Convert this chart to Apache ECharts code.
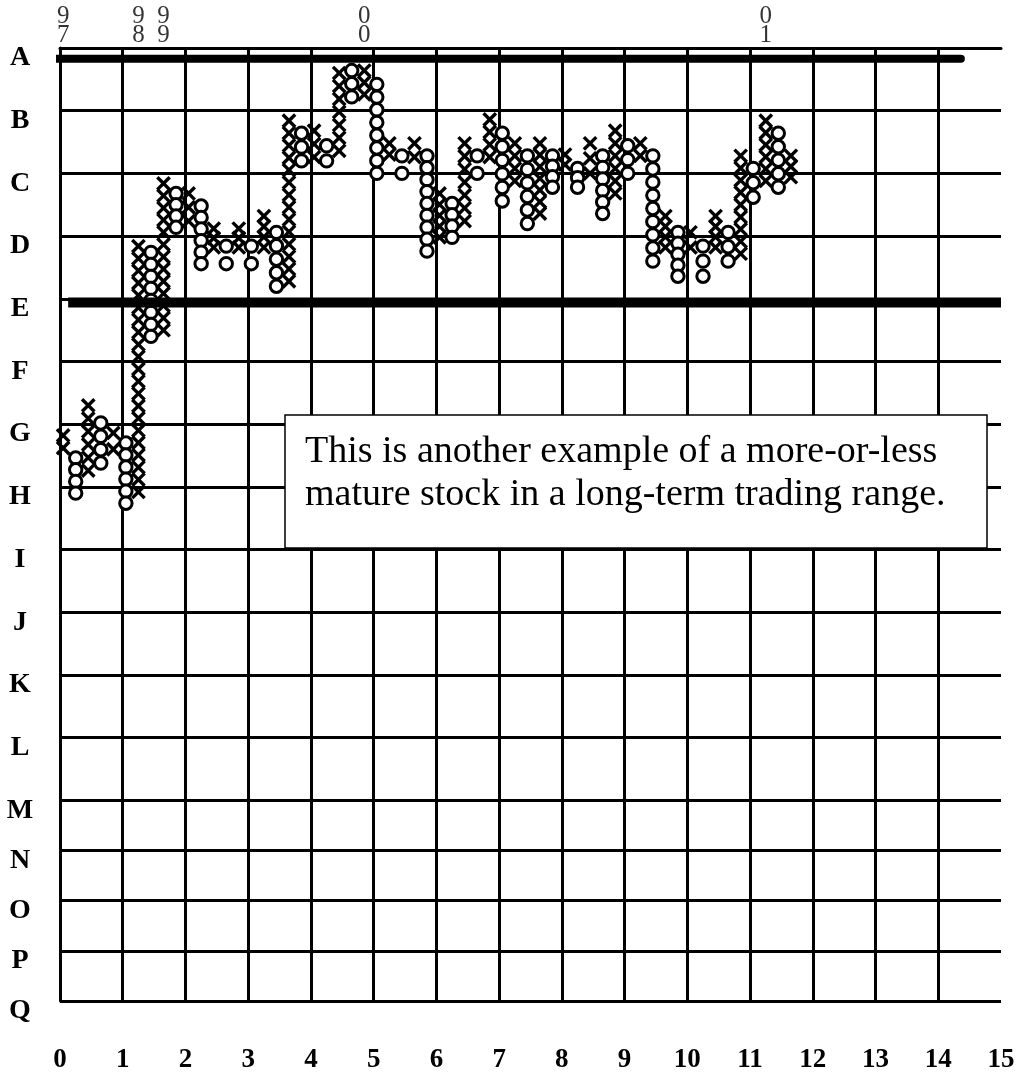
<!DOCTYPE html>
<html>
<head>
<meta charset="utf-8">
<title>Point and figure</title>
<script src="https://cdn.jsdelivr.net/npm/echarts@6/dist/echarts.min.js"></script>
<style>
  html, body { margin: 0; padding: 0; background: #fff; }
  #chart { width: 1032px; height: 1076px; }
</style>
</head>
<body>
<div id="chart"></div>
<script>
// row letters and their line level, in boxes counted down from A
var rowLabels = ['A', 'B', 'C', 'D', 'E', 'F', 'G', 'H', 'I', 'J', 'K', 'L', 'M', 'N', 'O', 'P', 'Q']
var rowLevels = [0, 5, 10, 15, 20, 25, 30, 35, 40, 45, 50, 55, 60, 64, 68, 72, 76]

// year change markers along the top
var yearText = ['97', '98', '99', '00', '01']
var yearX = [0.05, 1.25, 1.65, 4.85, 11.25]

// point & figure columns: kind, position, first and last box
var colKind = ['X', 'O', 'X', 'O', 'X', 'O', 'X', 'O', 'X', 'O',
  'X', 'O', 'X', 'O', 'X', 'O', 'X', 'O', 'X', 'O',
  'X', 'O', 'X', 'O', 'X', 'O', 'X', 'O', 'X', 'O',
  'X', 'O', 'X', 'O', 'X', 'O', 'X', 'O', 'X', 'O',
  'X', 'O', 'X', 'O', 'X', 'O', 'X', 'O', 'X', 'O',
  'X', 'O', 'X', 'O', 'X', 'O', 'X', 'O', 'X']
var colX = [0.05, 0.25, 0.45, 0.65, 0.85, 1.05, 1.25, 1.45, 1.65, 1.85,
  2.05, 2.25, 2.45, 2.65, 2.85, 3.05, 3.25, 3.45, 3.65, 3.85,
  4.05, 4.25, 4.45, 4.65, 4.85, 5.05, 5.25, 5.45, 5.65, 5.85,
  6.05, 6.25, 6.45, 6.65, 6.85, 7.05, 7.25, 7.45, 7.65, 7.85,
  8.05, 8.25, 8.45, 8.65, 8.85, 9.05, 9.25, 9.45, 9.65, 9.85,
  10.05, 10.25, 10.45, 10.65, 10.85, 11.05, 11.25, 11.45, 11.65]
var colTop = [30.9, 32.7, 28.5, 29.9, 30.7, 31.5, 15.8, 16.3, 10.8, 11.6,
  11.6, 12.6, 14.4, 15.8, 14.4, 15.8, 13.4, 14.7, 5.8, 6.8,
  6.6, 7.8, 2.0, 1.8, 1.8, 2.9, 7.6, 8.6, 7.6, 8.6,
  11.6, 12.4, 7.6, 8.6, 5.7, 6.8, 7.6, 8.6, 7.6, 8.6,
  8.5, 9.6, 7.6, 8.6, 6.6, 7.8, 7.6, 8.6, 13.4, 14.7,
  14.7, 15.8, 13.4, 14.7, 8.6, 9.6, 5.8, 6.8, 8.6]
var colBottom = [31.9, 35.5, 33.7, 33.1, 32.0, 36.3, 35.4, 23.0, 22.5, 14.3,
  13.8, 17.2, 15.9, 17.2, 15.9, 17.2, 15.9, 19.0, 18.6, 9.0,
  8.7, 9.0, 8.2, 3.9, 3.7, 10.0, 8.5, 10.0, 8.7, 16.2,
  15.1, 15.1, 13.8, 10.0, 8.7, 12.2, 10.6, 14.0, 13.2, 11.1,
  9.3, 11.1, 10.0, 13.2, 11.6, 10.0, 8.6, 17.0, 15.9, 18.2,
  15.9, 18.2, 15.9, 17.0, 16.4, 11.9, 10.6, 11.1, 10.3]

// the two heavy trading range lines
var resistance = [[-0.16, 0.85], [14.36, 0.85]]
var support = [[0.13, 20.3], [15, 20.3]]

var serif = '"Liberation Serif", "Times New Roman", serif'

var chart = echarts.init(document.getElementById('chart'))

function renderColumn(params, api) {
  var x = api.value(0)
  var top = api.value(1)
  var bottom = api.value(2)
  var isX = api.value(3) === 1
  var n = Math.round(bottom - top) + 1
  var h = 6.2
  var kids = []
  for (var i = 0; i < n; i++) {
    var v = n === 1 ? top : top + (bottom - top) * i / (n - 1)
    var p = api.coord([x, v])
    if (isX) {
      kids.push({ type: 'line', shape: { x1: p[0] - h, y1: p[1] - h, x2: p[0] + h, y2: p[1] + h }, style: { stroke: '#000', lineWidth: 3.4 } })
      kids.push({ type: 'line', shape: { x1: p[0] - h, y1: p[1] + h, x2: p[0] + h, y2: p[1] - h }, style: { stroke: '#000', lineWidth: 3.4 } })
    } else {
      kids.push({ type: 'circle', shape: { cx: p[0], cy: p[1], r: h }, style: { fill: '#fff', stroke: '#000', lineWidth: 3 } })
    }
  }
  return { type: 'group', children: kids }
}

chart.setOption({
  animation: false,
  backgroundColor: '#fff',
  grid: { left: 60, right: 31, top: 48, bottom: 75, outerBoundsMode: 'none' },
  xAxis: {
    type: 'value',
    min: 0,
    max: 15,
    interval: 1,
    axisLine: { show: true, lineStyle: { color: '#000', width: 3 } },
    axisTick: { show: false },
    axisLabel: { color: '#000', fontFamily: serif, fontWeight: 'bold', fontSize: 27, margin: 46 },
    splitLine: { show: true, showMaxLine: false, lineStyle: { color: '#000', width: 3 } }
  },
  yAxis: {
    type: 'value',
    inverse: true,
    min: 0,
    max: 76,
    axisLine: { show: true, lineStyle: { color: '#000', width: 3 } },
    axisTick: { show: false, customValues: rowLevels },
    axisLabel: {
      customValues: rowLevels,
      color: '#000',
      fontFamily: serif,
      fontWeight: 'bold',
      fontSize: 28,
      align: 'center',
      verticalAlign: 'top',
      lineHeight: 20,
      margin: 40,
      formatter: function (v) {
        var i = rowLevels.indexOf(v)
        return i < 0 ? '' : rowLabels[i]
      }
    },
    splitLine: { show: true, lineStyle: { color: '#000', width: 3 } }
  },
  series: [
    {
      type: 'custom',
      name: 'columns',
      renderItem: renderColumn,
      encode: { x: 0, y: [1, 2] },
      data: colX.map(function (x, i) {
        return [x, colTop[i], colBottom[i], colKind[i] === 'X' ? 1 : 0]
      }),
      z: 3
    },
    {
      type: 'line',
      name: 'resistance',
      data: resistance,
      symbol: 'none',
      clip: false,
      lineStyle: { color: '#000', width: 8, cap: 'round' },
      z: 4
    },
    {
      type: 'line',
      name: 'support',
      data: support,
      symbol: 'none',
      clip: false,
      lineStyle: { color: '#000', width: 10 },
      z: 4
    },
    {
      type: 'scatter',
      name: 'years',
      symbolSize: 0,
      clip: false,
      data: yearX.map(function (x, i) { return [x, 0, i] }),
      label: {
        show: true,
        position: 'top',
        distance: 3,
        color: '#000',
        fontFamily: serif,
        fontSize: 25,
        lineHeight: 19,
        formatter: function (p) {
          return yearText[p.value[2]].split('').join('\n')
        }
      },
      z: 4
    }
  ],
  graphic: [
    { type: 'rect', z: 100, shape: { x: 285, y: 415, width: 702, height: 133 }, style: { fill: '#fff', stroke: '#000', lineWidth: 1.5 } },
    { type: 'text', z: 101, x: 305, y: 452, style: { text: 'This is another example of a more-or-less', font: '38px ' + serif, fill: '#000', verticalAlign: 'middle' } },
    { type: 'text', z: 101, x: 305, y: 495, style: { text: 'mature stock in a long-term trading range.', font: '38px ' + serif, fill: '#000', verticalAlign: 'middle' } }
  ]
})
</script>
</body>
</html>
